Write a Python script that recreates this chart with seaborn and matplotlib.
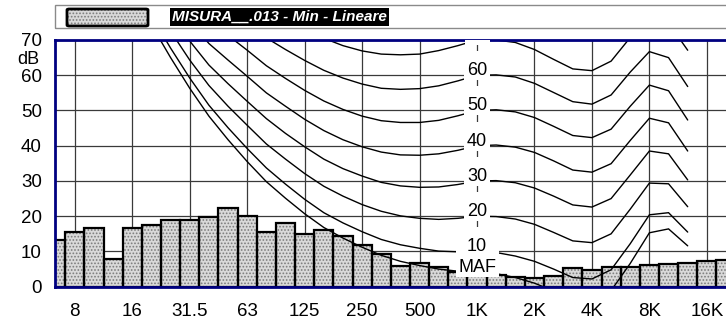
import matplotlib
matplotlib.use("Agg")
import matplotlib.pyplot as plt
import matplotlib.patches as mpatches
import seaborn as sns
import pandas as pd

# 1/3-octave bands shown on the x axis
bands = ["6.3", "8", "10", "12.5", "16", "20", "25", "31.5", "40", "50", "63",
         "80", "100", "125", "160", "200", "250", "315", "400", "500", "630",
         "800", "1K", "1.25K", "1.6K", "2K", "2.5K", "3.15K", "4K", "5K",
         "6.3K", "8K", "10K", "12.5K", "16K", "20K"]

# Measured spectrum (dB, linear weighting, minimum)
levels = [13.2, 15.5, 16.6, 7.8, 16.6, 17.5, 18.8, 18.8, 19.8, 22.2, 20.2,
          15.4, 18.1, 14.9, 16.0, 14.4, 11.8, 9.2, 6.0, 6.6, 5.5,
          4.2, 3.5, 3.2, 2.7, 2.5, 3.1, 5.2, 4.8, 5.6,
          5.6, 6.1, 6.4, 6.8, 7.3, 7.6]

# Equal-loudness contours, 20 Hz .. 12.5 kHz
contour_bands = ["20", "25", "31.5", "40", "50", "63", "80", "100", "125",
                 "160", "200", "250", "315", "400", "500", "630", "800", "1K",
                 "1.25K", "1.6K", "2K", "2.5K", "3.15K", "4K", "5K", "6.3K",
                 "8K", "10K", "12.5K"]
contour_names = ["MAF", "10", "20", "30", "40", "50", "60", "70"]
maf = [74.3, 65.0, 56.3, 48.4, 41.7, 35.5, 29.8, 25.1, 20.7, 16.8, 13.8, 11.2,
       8.9, 7.2, 6.0, 5.0, 4.4, 4.2, 3.7, 2.6, 1.0, -1.2, -3.6, -3.9, -1.1,
       6.6, 15.3, 16.4, 11.6]
phon10 = [76.8, 67.7, 59.2, 51.5, 45.1, 39.2, 33.7, 29.1, 24.8, 21.0, 18.1,
          15.6, 13.4, 11.9, 10.9, 10.1, 9.9, 10.0, 9.7, 8.7, 7.2, 5.0, 2.6,
          2.2, 4.8, 12.2, 20.4, 21.0, 15.5]
phon20 = [81.3, 72.5, 64.3, 57.1, 51.2, 45.8, 40.5, 36.2, 32.1, 28.5, 25.7,
          23.3, 21.4, 20.1, 19.4, 19.1, 19.4, 20.0, 19.9, 19.2, 17.7, 15.4,
          13.0, 12.5, 15.0, 22.0, 29.4, 29.2, 22.7]
phon30 = [86.0, 77.6, 69.7, 62.9, 57.6, 52.6, 47.7, 43.5, 39.7, 36.2, 33.5,
          31.4, 29.6, 28.6, 28.2, 28.3, 29.0, 30.0, 30.1, 29.5, 28.0, 25.7,
          23.2, 22.6, 25.0, 31.7, 38.5, 37.7, 30.3]
phon40 = [91.0, 82.9, 75.4, 69.0, 64.3, 59.7, 55.0, 51.2, 47.5, 44.3, 41.7,
          39.7, 38.2, 37.4, 37.3, 37.7, 38.7, 40.0, 40.2, 39.6, 38.1, 35.7,
          33.1, 32.5, 34.9, 41.5, 47.8, 46.5, 38.5]
phon50 = [96.2, 88.5, 81.3, 75.4, 71.3, 67.1, 62.7, 59.1, 55.7, 52.7, 50.3,
          48.4, 47.1, 46.6, 46.6, 47.2, 48.5, 50.0, 50.2, 49.6, 48.0, 45.5,
          42.9, 42.3, 44.7, 51.2, 57.2, 55.6, 47.3]
phon60 = [101.7, 94.4, 87.6, 82.1, 78.6, 74.8, 70.6, 67.3, 64.2, 61.4, 59.2,
          57.5, 56.3, 56.0, 56.2, 57.0, 58.4, 60.0, 60.1, 59.5, 57.7, 55.1,
          52.5, 51.8, 54.4, 60.9, 66.7, 65.0, 56.8]
phon70 = [107.6, 100.7, 94.3, 89.2, 86.4, 82.8, 78.8, 75.8, 73.0, 70.5, 68.4,
          66.9, 66.0, 65.8, 66.0, 67.0, 68.4, 70.0, 70.0, 69.3, 67.3, 64.5,
          61.8, 61.3, 64.0, 70.7, 76.4, 74.8, 67.1]
contours = [maf, phon10, phon20, phon30, phon40, phon50, phon60, phon70]

octave_labels = ["8", "16", "31.5", "63", "125", "250", "500", "1K", "2K",
                 "4K", "8K", "16K"]
y_ticks = [0, 10, 20, 30, 40, 50, 60, 70]
legend_label = "MISURA__.013 - Min - Lineare"

BAR_FACE = "#d9d9d9"
DOT = "#7c7c7c"
NAVY = "#000080"
GRID = "#3a3a3a"

sns.set_theme(style="white")
plt.rcParams["font.family"] = ["Liberation Sans", "DejaVu Sans"]
plt.rcParams["hatch.linewidth"] = 0.8

W, H = 726, 323
fig = plt.figure(figsize=(W / 100, H / 100), dpi=100)
fig.patch.set_facecolor("white")
ax = fig.add_axes([55 / W, (H - 286.7) / H, (W - 55) / W, 246.7 / H])

df = pd.DataFrame({"band": bands, "level": levels})

# stippled fill
sns.barplot(data=df, x="band", y="level", order=bands, width=1.0,
            color=BAR_FACE, saturation=1, linewidth=0, ax=ax, zorder=2)
for p in ax.patches:
    p.set_edgecolor(DOT)
    p.set_linewidth(0)
    p.set_hatch(".....")
# black outlines
sns.barplot(data=df, x="band", y="level", order=bands, width=1.0,
            color="black", fill=False, linewidth=1.6, ax=ax, zorder=2.5)

# equal-loudness contours
pos = [bands.index(b) for b in contour_bands]
for vals in contours:
    ax.plot(pos, vals, color="black", lw=1.0, zorder=3, solid_joinstyle="miter")

ax.set_xlim(-0.036, 34.78)
ax.set_ylim(0, 70)

# axes, ticks, grid
octave_pos = [bands.index(b) for b in octave_labels]
ax.set_xticks(octave_pos, octave_labels)
ax.set_xticks(range(len(bands)), minor=True)
ax.set_yticks(y_ticks, [str(v) for v in y_ticks])
ax.set_yticks(range(0, 71, 2), minor=True)
ax.tick_params(axis="both", which="both", direction="out", color="#222222",
               width=1.0, labelsize=13.5, labelcolor="black")
ax.tick_params(axis="y", which="major", length=8.5, pad=1)
ax.tick_params(axis="y", which="minor", length=4.3)
ax.tick_params(axis="x", which="major", length=8, pad=3.5)
ax.tick_params(axis="x", which="minor", length=4.3)
ax.set_xlabel("")
ax.set_ylabel("")
ax.grid(True, which="major", color=GRID, lw=0.9)
ax.set_axisbelow(True)
for side in ["left", "top", "bottom"]:
    ax.spines[side].set_color(NAVY)
    ax.spines[side].set_linewidth(2.0)
    ax.spines[side].set_zorder(6)
ax.spines["right"].set_visible(False)

ax.annotate("dB", xy=(0, 64.6), xycoords=("axes fraction", "data"),
            xytext=(-19, 0), textcoords="offset points", ha="center",
            va="center", fontsize=13, color="black", annotation_clip=False)

# phon labels at 1 kHz with white backing boxes
i1k = bands.index("1K")
j1k = contour_bands.index("1K")
fig.canvas.draw()
renderer = fig.canvas.get_renderer()
for name, vals in zip(contour_names, contours):
    lvl = vals[j1k]
    t = ax.text(i1k, lvl, name, ha="center", va="baseline", fontsize=13,
                color="black", zorder=8, clip_on=True)
    bb = t.get_window_extent(renderer)
    _, yline = ax.transData.transform((i1k, lvl))
    box = mpatches.Rectangle((bb.x0 - 2.5, yline - 5), bb.width + 5, 29,
                             transform=None, facecolor="white",
                             edgecolor="none", zorder=7)
    box.set_clip_box(ax.bbox)
    ax.add_artist(box)

# legend strip
frame = mpatches.Rectangle((55 / W, 1 - 28 / H), (W - 55) / W + 0.01, 23 / H,
                           transform=fig.transFigure, facecolor="none",
                           edgecolor="#8a8a8a", lw=1.0)
swatch = mpatches.Rectangle((67 / W, 1 - 26 / H), 81 / W, 17 / H,
                            transform=fig.transFigure, facecolor=BAR_FACE,
                            edgecolor=DOT, lw=0, hatch=".....")
swatch_edge = mpatches.FancyBboxPatch((67 / W, 1 - 26 / H), 81 / W, 17 / H,
                                      boxstyle="round,pad=0,rounding_size=0.003",
                                      transform=fig.transFigure,
                                      facecolor="none", edgecolor="black",
                                      lw=2.0)
fig.patches.extend([frame, swatch, swatch_edge])
fig.text(172 / W, 1 - 17 / H, legend_label, color="white", fontsize=11,
         fontweight="bold", fontstyle="italic", ha="left", va="center",
         bbox=dict(boxstyle="square,pad=0.12", facecolor="black",
                   edgecolor="none"))

fig.savefig("out.png", dpi=100)
